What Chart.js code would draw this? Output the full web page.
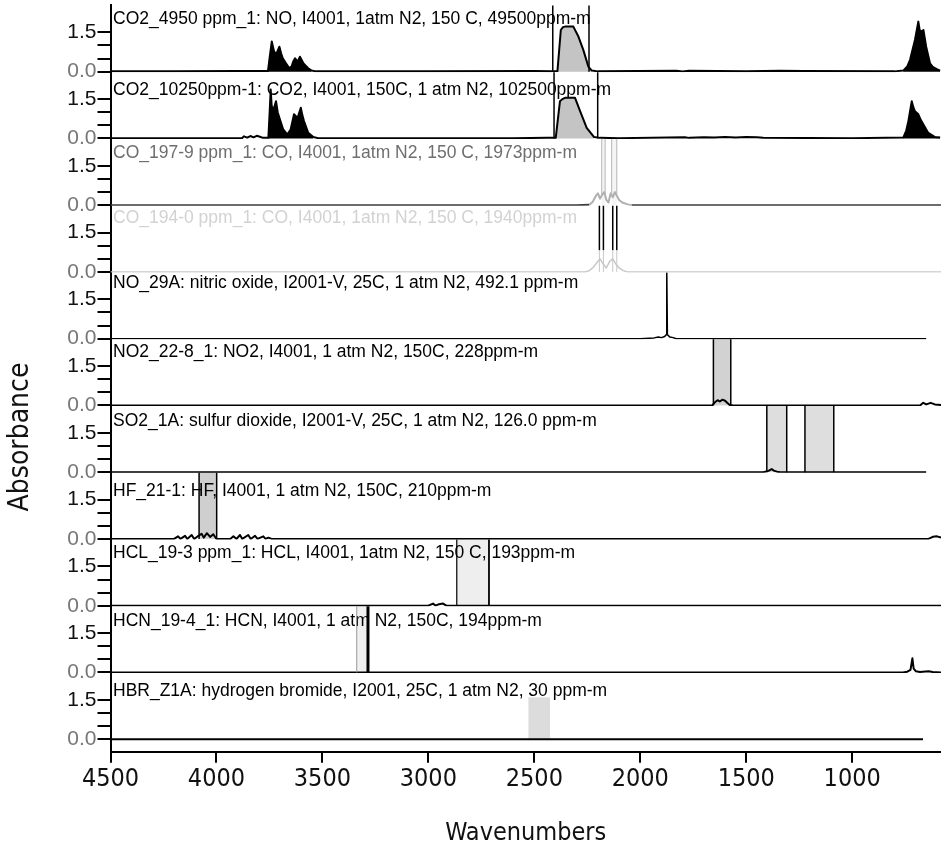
<!DOCTYPE html>
<html><head><meta charset="utf-8">
<script src="https://cdn.jsdelivr.net/npm/chart.js@4.4.1/dist/chart.umd.min.js"></script>
<style>html,body{margin:0;padding:0;background:#fff;}canvas{display:block;}</style>
</head><body>
<canvas id="c" width="941" height="847"></canvas>
<script>
// ================= DATA =================
const xTickValues = [4500, 4000, 3500, 3000, 2500, 2000, 1500, 1000];
const yTickValues = [0, 0.5, 1.0, 1.5];
const yTickLabels = ['0.0', '', '', '1.5'];
const xAxisTitle = 'Wavenumbers';
const yAxisTitle = 'Absorbance';

const panelTitles = [
  'CO2_4950 ppm_1: NO, I4001, 1atm N2, 150 C, 49500ppm-m',
  'CO2_10250ppm-1: CO2, I4001, 150C, 1 atm N2, 102500ppm-m',
  'CO_197-9 ppm_1: CO, I4001, 1atm N2, 150 C, 1973ppm-m',
  'CO_194-0 ppm_1: CO, I4001, 1atm N2, 150 C, 1940ppm-m',
  'NO_29A: nitric oxide, I2001-V, 25C, 1 atm N2, 492.1 ppm-m',
  'NO2_22-8_1: NO2, I4001, 1 atm N2, 150C, 228ppm-m',
  'SO2_1A: sulfur dioxide, I2001-V, 25C, 1 atm N2, 126.0 ppm-m',
  'HF_21-1: HF, I4001, 1 atm N2, 150C, 210ppm-m',
  'HCL_19-3 ppm_1: HCL, I4001, 1atm N2, 150 C, 193ppm-m',
  'HCN_19-4_1: HCN, I4001, 1 atm N2, 150C, 194ppm-m',
  'HBR_Z1A: hydrogen bromide, I2001, 25C, 1 atm N2, 30 ppm-m'
];

// spectra: [wavenumber, absorbance]
const specCO2_4950 = [[4500,0.01],[4200,0.01],[3900,0.02],[3757,0.02],[3748,0.6],[3739,1.15],[3729,0.8],[3719,0.64],[3711,0.8],[3703,0.95],[3695,0.7],[3687,0.51],[3672,0.32],[3656,0.13],[3645,0.2],[3637,0.4],[3629,0.51],[3617,0.38],[3606,0.57],[3598,0.45],[3590,0.32],[3578,0.22],[3567,0.13],[3551,0.04],[3530,0.01],[3000,0.01],[2500,0.02],[2420,0.01],[2391,0.02],[2375,1.59],[2365,1.7],[2355,1.72],[2316,1.72],[2292,1.34],[2269,0.83],[2245,0.19],[2229,0.04],[2200,0.01],[1830,0.03],[1800,0.01],[1770,0.03],[1500,0.01],[1340,0.03],[1230,0.02],[800,0.01],[759,0.04],[740,0.2],[727,0.45],[704,1.21],[688,1.91],[682,1.6],[677,1.53],[670,1.55],[664,1.59],[651,0.95],[633,0.32],[620,0.18],[609,0.13],[595,0.07],[585,0.04]];
const specCO2_10250 = [[4500,0.01],[4100,0.01],[3880,0.01],[3870,0.08],[3855,0.03],[3840,0.09],[3825,0.04],[3810,0.1],[3795,0.06],[3780,0.02],[3755,0.02],[3749,1.0],[3744,1.87],[3740,1.3],[3735,1.04],[3727,1.2],[3719,1.42],[3711,1.0],[3703,0.79],[3685,0.34],[3666,0.15],[3650,0.34],[3634,0.92],[3625,0.85],[3617,0.79],[3602,1.17],[3595,0.9],[3587,0.66],[3567,0.21],[3543,0.05],[3520,0.01],[2600,0.01],[2440,0.02],[2399,0.02],[2379,1.42],[2368,1.5],[2355,1.55],[2308,1.55],[2284,1.04],[2253,0.4],[2218,0.05],[2190,0.02],[2100,0.01],[1790,0.04],[1770,0.02],[1700,0.04],[1650,0.03],[1600,0.05],[1550,0.03],[1500,0.05],[1450,0.04],[1420,0.02],[1000,0.01],[759,0.03],[745,0.3],[735,0.66],[719,1.42],[712,1.2],[704,1.04],[688,0.92],[676,0.7],[664,0.53],[641,0.21],[609,0.05],[585,0.03]];
const specCO_1973 = [[4500,0],[2300,0],[2240,0.02],[2225,0.12],[2210,0.35],[2200,0.45],[2190,0.25],[2180,0.4],[2170,0.5],[2160,0.2],[2150,0.1],[2140,0.45],[2130,0.3],[2120,0.5],[2110,0.35],[2100,0.2],[2085,0.1],[2060,0.03],[2040,0],[581,0]];
const specCO_1940 = [[4500,0],[2260,0],[2240,0.05],[2220,0.2],[2205,0.35],[2190,0.5],[2175,0.3],[2160,0.15],[2145,0.4],[2130,0.5],[2115,0.3],[2100,0.15],[2080,0.05],[2060,0],[581,0]];
const specNO = [[4500,0],[2000,0],[1935,0.03],[1915,0.06],[1900,0.04],[1885,0.08],[1878,0.15],[1875,2.53],[1872,0.15],[1860,0.06],[1845,0.04],[1830,0],[651,0]];
const specNO2 = [[4500,0],[1700,0],[1660,0.01],[1648,0.12],[1635,0.2],[1625,0.15],[1612,0.22],[1600,0.18],[1590,0.1],[1578,0.02],[1560,0],[680,0],[665,0.1],[650,0.04],[630,0.1],[610,0.04],[581,0.02]];
const specSO2 = [[4500,0],[1420,0],[1395,0.05],[1380,0.12],[1370,0.06],[1355,0.02],[1340,0],[651,0]];
const specHF = [[4500,0],[4200,0],[4181,0.1],[4170,0],[4148,0.12],[4138,0],[4117,0.15],[4105,0],[4085,0.12],[4070,0.2],[4060,0.05],[4045,0.22],[4030,0.08],[4015,0.18],[4000,0],[3935,0],[3920,0.1],[3905,0],[3889,0.15],[3878,0],[3850,0.15],[3838,0],[3818,0.12],[3806,0],[3779,0.1],[3768,0],[3755,0.05],[3740,0],[640,0],[620,0.08],[600,0.1],[581,0.05]];
const specHCL = [[4500,0],[3000,0],[2978,0.08],[2965,0],[2950,0.06],[2931,0.08],[2915,0],[581,0]];
const specHCN = [[4500,0],[760,0],[740,0.03],[725,0.1],[716,0.54],[710,0.15],[700,0.05],[680,0.02],[640,0.05],[620,0.02],[581,0]];
const specHBR = [[4500,0],[666,0]];

const spectra = [specCO2_4950, specCO2_10250, specCO_1973, specCO_1940, specNO, specNO2, specSO2, specHF, specHCL, specHCN, specHBR];

// integration regions (wavenumber from, to) per panel
const regionsCO2_4950 = [[2413, 2242]];
const regionsCO2_10250 = [[2407, 2201]];
const regionsCO_1973 = [[2182, 2166], [2135, 2111]];
const regionsCO_1940 = [[2193, 2174], [2130, 2111]];
const regionsNO = [];
const regionsNO2 = [[1655, 1573]];
const regionsSO2 = [[1403, 1309], [1223, 1087]];
const regionsHF = [[4082, 3999]];
const regionsHCL = [[2866, 2714]];
const regionsHCN = [[3338, 3285]];
const regionsHBR = [[2528, 2426]];
const regions = [regionsCO2_4950, regionsCO2_10250, regionsCO_1973, regionsCO_1940, regionsNO, regionsNO2, regionsSO2, regionsHF, regionsHCL, regionsHCN, regionsHBR];

// shaded parts under the curves (wavenumber from, to, kind)
const shadedCO2_4950 = [[3757, 3551, 'peak'], [2391, 2229, 'band'], [759, 585, 'peak']];
const shadedCO2_10250 = [[3755, 3543, 'peak'], [2399, 2218, 'band'], [759, 585, 'peak']];
const shaded = [shadedCO2_4950, shadedCO2_10250, [], [], [], [], [], [], [], [], []];

// ================= STYLE / LAYOUT =================
const sans = '"Liberation Sans", Arial, sans-serif';
const narrow = '"DejaVu Sans Condensed", "Liberation Sans", sans-serif';
const lineColors = ['#000', '#000', '#3c3c3c', '#c8c8c8', '#000', '#000', '#000', '#000', '#000', '#000', '#000'];
const titleColors = ['#000', '#000', '#6e6e6e', '#d2d2d2', '#000', '#000', '#000', '#000', '#000', '#000', '#000'];
const titleBaselineOffsets = [18.6, 22.8, 19.3, 17.5, 15.7, 17.9, 20.5, 23.7, 18.5, 20.1, 23.3];
const shadeColors = {peak: '#000', band: '#c4c4c4'};
const regionStyleOfPanel = ['lines', 'lines', 'ghost', 'upper', 'lines', 'box', 'boxSO2', 'boxHF', 'boxLight', 'hcn', 'light'];
const regionStyles = {
  lines: {fill: null, left: {c: '#000', w: 1.5}, right: {c: '#000', w: 1.5}},
  ghost: {fill: 'rgba(0,0,0,0.04)', bottom: 0.35, left: {c: '#b4b4b4', w: 1}, right: {c: '#b4b4b4', w: 1}},
  upper: {fill: null, bottom: 0.83, left: {c: '#000', w: 1.5}, right: {c: '#000', w: 1.5}, lower: {c: '#c8c8c8', w: 1}},
  box: {fill: '#d2d2d2', left: {c: '#000', w: 1.5}, right: {c: '#000', w: 1.5}},
  boxSO2: {fill: '#dedede', left: {c: '#000', w: 1.5}, right: {c: '#000', w: 1.5}},
  boxHF: {fill: '#cfcfcf', left: {c: '#000', w: 1.5}, right: {c: '#000', w: 1.5}},
  boxLight: {fill: '#eeeeee', left: {c: '#000', w: 1.2}, right: {c: '#000', w: 1.8}},
  hcn: {fill: '#f0f0f0', left: {c: '#9a9a9a', w: 1}, right: {c: '#000', w: 3}},
  light: {fill: '#dcdcdc', top: 1.6}
};
const yTitlePos = {x: 21, y: 437, size: 28};

function drawRegions(chart, phase) {
  const ctx = chart.ctx, xs = chart.scales.x, area = chart.chartArea;
  ctx.save();
  ctx.beginPath();
  ctx.rect(area.left, area.top - 6, area.right - area.left, area.bottom - area.top + 6);
  ctx.clip();
  regions.forEach((list, i) => {
    const st = regionStyles[regionStyleOfPanel[i]];
    const ys = chart.scales['y' + i];
    const yTop = st.top == null ? ys.top : ys.getPixelForValue(st.top);
    const yBot = ys.getPixelForValue(st.bottom == null ? 0 : st.bottom);
    const yZero = ys.getPixelForValue(0);
    list.forEach(([a, b]) => {
      const xa = xs.getPixelForValue(a), xb = xs.getPixelForValue(b);
      if (phase === 'fill' && st.fill) {
        ctx.fillStyle = st.fill;
        ctx.fillRect(xa, yTop, xb - xa, yZero - yTop);
      }
      if (phase === 'stroke') {
        [[xa, st.left], [xb, st.right]].forEach(([px, s]) => {
          if (!s) return;
          ctx.strokeStyle = s.c; ctx.lineWidth = s.w;
          ctx.beginPath(); ctx.moveTo(px, yTop); ctx.lineTo(px, yBot); ctx.stroke();
          if (st.lower) {
            ctx.strokeStyle = st.lower.c; ctx.lineWidth = st.lower.w;
            ctx.beginPath(); ctx.moveTo(px, yBot); ctx.lineTo(px, yZero); ctx.stroke();
          }
        });
      }
    });
  });
  ctx.restore();
}

function drawTitles(chart) {
  const ctx = chart.ctx, area = chart.chartArea;
  ctx.save();
  ctx.font = '17.5px ' + sans;
  ctx.textBaseline = 'alphabetic';
  ctx.textAlign = 'left';
  panelTitles.forEach((t, i) => {
    const ys = chart.scales['y' + i];
    ctx.fillStyle = titleColors[i];
    ctx.fillText(t, area.left + 2.5, ys.top + titleBaselineOffsets[i]);
  });
  ctx.restore();
}

function drawYTitle(chart) {
  const ctx = chart.ctx;
  ctx.save();
  ctx.translate(yTitlePos.x, yTitlePos.y);
  ctx.rotate(-Math.PI / 2);
  ctx.font = yTitlePos.size + 'px ' + narrow;
  ctx.fillStyle = '#111';
  ctx.textAlign = 'center';
  ctx.textBaseline = 'middle';
  ctx.fillText(yAxisTitle, 0, 0);
  ctx.restore();
}

const panelPlugin = {
  id: 'panels',
  beforeDatasetsDraw(chart) { drawRegions(chart, 'fill'); drawTitles(chart); },
  afterDatasetsDraw(chart) { drawRegions(chart, 'stroke'); },
  afterDraw(chart) { drawYTitle(chart); }
};

// ================= CHART =================
const datasets = [];
spectra.forEach((pts, i) => {
  const ds = {
    data: pts, xAxisID: 'x', yAxisID: 'y' + i,
    borderColor: lineColors[i], borderWidth: i === 3 ? 1.5 : (i === 4 ? 1.5 : 2),
    pointRadius: 0, fill: false, tension: 0, borderJoinStyle: 'round', order: 0
  };
  if (i === 2) {
    ds.segment = {borderColor: c => (c.p0.parsed.y > 0.02 || c.p1.parsed.y > 0.02) ? '#b0b0b0' : '#3c3c3c'};
  }
  datasets.push(ds);
  shaded[i].forEach(([a, b, kind]) => {
    datasets.push({
      data: pts.filter(p => p[0] <= a && p[0] >= b), xAxisID: 'x', yAxisID: 'y' + i,
      borderWidth: 0, pointRadius: 0, fill: 'origin', backgroundColor: shadeColors[kind], tension: 0, order: 1
    });
  });
});

const scales = {
  x: {
    type: 'linear', position: 'bottom', reverse: true, min: 581, max: 4500,
    afterBuildTicks: s => { s.ticks = xTickValues.map(v => ({value: v})); },
    afterFit: s => { s.height = 95.3; s.paddingLeft = 0; s.paddingRight = 0; },
    ticks: {autoSkip: false, maxRotation: 0, minRotation: 0, padding: 2, color: '#111',
      font: {family: narrow, size: 25, lineHeight: 1.2}, callback: v => String(v)},
    grid: {drawOnChartArea: false, drawTicks: true, tickLength: 11, color: '#000', lineWidth: 2},
    border: {display: true, color: '#000', width: 2},
    title: {display: true, text: xAxisTitle, color: '#111', font: {family: narrow, size: 25, lineHeight: 1}, padding: {top: 0, bottom: 1}}
  }
};
for (let i = 0; i < spectra.length; i++) {
  const last = i === spectra.length - 1;
  scales['y' + i] = {
    type: 'linear', position: 'left', stack: 'panels', stackWeight: last ? 1.179 : 1, weight: 20 - i,
    min: last ? -0.477 : -0.02, max: 2.53,
    afterBuildTicks: s => { s.ticks = yTickValues.map(v => ({value: v})); },
    afterFit: s => { s.width = 110.5; s.paddingTop = 0; s.paddingBottom = 0; },
    ticks: {autoSkip: false, padding: 1,
      color: c => (c.tick && c.tick.value === 0) ? '#777' : '#111',
      font: {family: sans, size: 21},
      callback: v => { const k = yTickValues.indexOf(v); return k < 0 ? '' : yTickLabels[k]; }},
    grid: {drawOnChartArea: false, drawTicks: true, tickLength: 13, color: '#000', lineWidth: 2},
    border: {display: true, color: '#000', width: 2},
    title: {display: false}
  };
}

new Chart(document.getElementById('c'), {
  type: 'line',
  data: {datasets},
  options: {
    responsive: false, animation: false, devicePixelRatio: 1,
    layout: {padding: {top: 5.4, left: 0, right: 0, bottom: 0}},
    plugins: {legend: {display: false}, tooltip: {enabled: false}},
    scales
  },
  plugins: [panelPlugin]
});
</script>
</body></html>
